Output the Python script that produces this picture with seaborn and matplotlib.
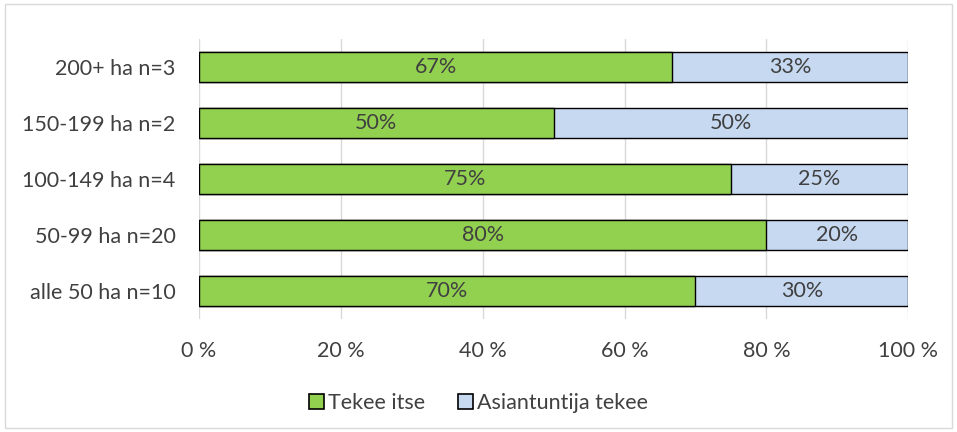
import numpy as np
import pandas as pd
import matplotlib.pyplot as plt
import seaborn as sns
from matplotlib.patches import Rectangle, Patch

sns.set_style("white")
plt.rcParams['font.family'] = ['Lato', 'DejaVu Sans']

categories = ["200+ ha n=3", "150-199 ha n=2", "100-149 ha n=4", "50-99 ha n=20", "alle 50 ha n=10"]
tekee_itse = [66.7, 50, 75, 80, 70]
asiantuntija = [33.3, 50, 25, 20, 30]
series_names = ["Tekee itse", "Asiantuntija tekee"]
xticks = [0, 20, 40, 60, 80, 100]

green = "#92D050"
blue = "#C6D9F1"
txt = "#404040"
fs = 15.5

df = pd.DataFrame({"cat": categories, "itse": tekee_itse, "asi": asiantuntija})
df["total"] = df["itse"] + df["asi"]

fig = plt.figure(figsize=(9.57, 4.32), dpi=100)
ax = fig.add_axes([0.208, 0.262, 0.741, 0.648])

sns.barplot(data=df, y="cat", x="total", orient="h", color=blue, width=0.54,
            edgecolor="black", linewidth=1.0, ax=ax, saturation=1)
sns.barplot(data=df, y="cat", x="itse", orient="h", color=green, width=0.54,
            edgecolor="black", linewidth=1.0, ax=ax, saturation=1)

for i, (a, b) in enumerate(zip(tekee_itse, asiantuntija)):
    ax.text(a / 2, i, f"{a:.0f}%", ha="center", va="center", fontsize=fs, color=txt)
    ax.text(a + b / 2, i, f"{b:.0f}%", ha="center", va="center", fontsize=fs, color=txt)

ax.set_xlim(0, 100)
ax.set_xticks(xticks)
ax.set_xticklabels([f"{t} %" for t in xticks])
ax.xaxis.grid(True, color="#D9D9D9", linewidth=1)
ax.set_axisbelow(True)
for s in ax.spines.values():
    s.set_visible(False)
ax.set_xlabel("")
ax.set_ylabel("")
ax.tick_params(axis="both", length=0, labelsize=fs, colors=txt)
ax.tick_params(axis="y", pad=17)
ax.tick_params(axis="x", pad=16)

handles = [Patch(facecolor=green, edgecolor="black", linewidth=1.2),
           Patch(facecolor=blue, edgecolor="black", linewidth=1.2)]
fig.legend(handles, series_names, loc="center", bbox_to_anchor=(0.5, 0.067), ncol=2,
           frameon=False, fontsize=fs, handlelength=0.7, handleheight=0.7,
           handletextpad=0.2, columnspacing=1.5, labelcolor=txt)

fig.patches.append(Rectangle((0.005, 0.01), 0.99, 0.98, transform=fig.transFigure,
                             fill=False, edgecolor="#D9D9D9", linewidth=1))

fig.savefig("out.png", dpi=100)
